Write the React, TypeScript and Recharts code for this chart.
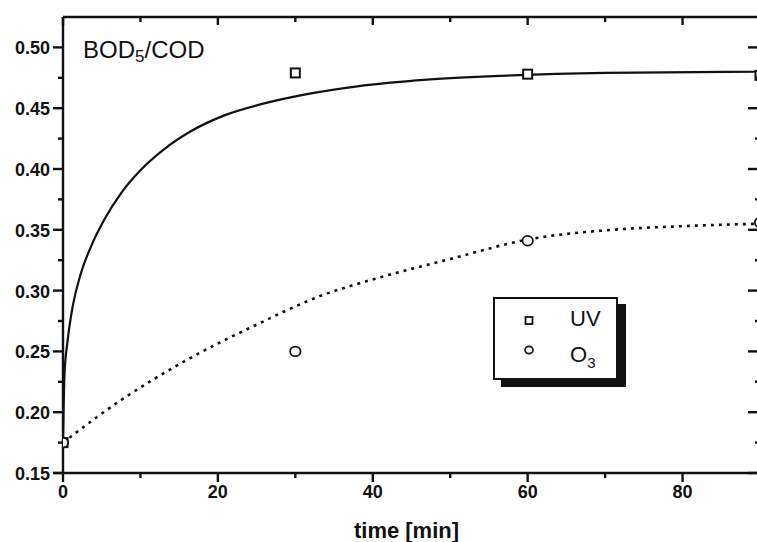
import React from "react"
import { ComposedChart, Line, Scatter, XAxis, YAxis, Legend } from "recharts"

// measured points (time in min)
const sampleTimes = [0, 30, 60, 90]
const uvMeasured = [0.175, 0.479, 0.478, 0.477]
const o3Measured = [0.175, 0.25, 0.341, 0.356]

// fitted curves
const uvFitTimes = [0, 0.2, 0.6, 1.25, 2.3, 3.6, 5.3, 7.6, 10, 13, 16.5, 21, 26, 31, 38, 47, 58, 70, 90]
const uvFitValues = [0.175, 0.232, 0.259, 0.287, 0.314, 0.336, 0.358, 0.381, 0.399, 0.416, 0.431, 0.4445, 0.454, 0.461, 0.468, 0.4735, 0.477, 0.479, 0.48]
const o3FitTimes = [0, 7.5, 16, 25, 33, 41, 50, 60, 71, 80, 90]
const o3FitValues = [0.175, 0.21, 0.243, 0.272, 0.295, 0.311, 0.326, 0.342, 0.35, 0.353, 0.355]

const xTicks = [0, 10, 20, 30, 40, 50, 60, 70, 80, 90]
const yTicks = [0.15, 0.175, 0.2, 0.225, 0.25, 0.275, 0.3, 0.325, 0.35, 0.375, 0.4, 0.425, 0.45, 0.475, 0.5]

const INK = "#111"
const FONT = '"Liberation Sans", Arial, sans-serif'
const AXIS_W = 2.4

const toPoints = (xs: number[], ys: number[]) => xs.map((x, i) => ({ x, y: ys[i] }))

const uvPoints = toPoints(sampleTimes, uvMeasured)
const o3Points = toPoints(sampleTimes, o3Measured)
const uvFit = toPoints(uvFitTimes, uvFitValues)
const o3Fit = toPoints(o3FitTimes, o3FitValues)

const isMajorX = (v: number) => v % 20 === 0
const isMajorY = (v: number) => Math.round(v * 1000) % 50 === 0

function BottomTick(props: any) {
  const { x, y, payload } = props
  const major = isMajorX(payload.value)
  return (
    <g>
      <line x1={x} x2={x} y1={y} y2={y + (major ? 9 : 5)} stroke={INK} strokeWidth={AXIS_W} />
      {payload.value === 0 && <line x1={x - 10} x2={x} y1={y} y2={y} stroke={INK} strokeWidth={AXIS_W} />}
      {major && (
        <text x={x} y={y + 19} textAnchor="middle" dominantBaseline="central"
          fontFamily={FONT} fontWeight="bold" fontSize={18} fill={INK}>
          {payload.value}
        </text>
      )}
    </g>
  )
}

function TopTick(props: any) {
  const { x, y, payload } = props
  const major = isMajorX(payload.value)
  return <line x1={x} x2={x} y1={y} y2={y + (major ? 8 : 5)} stroke={INK} strokeWidth={AXIS_W} />
}

function LeftTick(props: any) {
  const { x, y, payload } = props
  const major = isMajorY(payload.value)
  return (
    <g>
      <line x1={x} x2={x - (major ? 10 : 5)} y1={y} y2={y} stroke={INK} strokeWidth={AXIS_W} />
      {major && (
        <text x={x - 13} y={y + 1} textAnchor="end" dominantBaseline="central"
          fontFamily={FONT} fontWeight="bold" fontSize={18} fill={INK}>
          {payload.value.toFixed(2)}
        </text>
      )}
    </g>
  )
}

function RightTick(props: any) {
  const { x, y, payload } = props
  const major = isMajorY(payload.value)
  return <line x1={x} x2={x - (major ? 12 : 5)} y1={y} y2={y} stroke={INK} strokeWidth={AXIS_W} />
}

const SquareMark = (props: any) => (
  <rect x={props.cx - 4.5} y={props.cy - 4.5} width={9} height={9}
    fill="#fff" stroke={INK} strokeWidth={2} />
)

const CircleMark = (props: any) => (
  <ellipse cx={props.cx} cy={props.cy} rx={5.2} ry={4.8}
    fill="#fff" stroke={INK} strokeWidth={1.8} />
)

function LegendBox() {
  const text = { position: "absolute" as const, fontFamily: FONT, fontSize: 22, lineHeight: "22px", color: INK }
  return (
    <div style={{
      position: "relative", width: 125, height: 83, boxSizing: "border-box",
      border: `2px solid ${INK}`, background: "#fff", boxShadow: `8px 7px 0 ${INK}`,
    }}>
      <svg style={{ position: "absolute", left: 27, top: 14 }} width={16} height={52}>
        <rect x={3.5} y={4} width={7} height={7} fill="none" stroke={INK} strokeWidth={1.8} />
        <ellipse cx={7} cy={37} rx={4} ry={3.6} fill="none" stroke={INK} strokeWidth={1.6} />
      </svg>
      <div style={{ ...text, left: 75, top: 9 }}>UV</div>
      <div style={{ ...text, left: 75, top: 45 }}>
        O<span style={{ fontSize: 15, verticalAlign: -6 }}>3</span>
      </div>
    </div>
  )
}

export default function App() {
  return (
    <div style={{ position: "fixed", left: 0, top: 0, width: 757, height: 542, overflow: "hidden", background: "#fff" }}>
      <div style={{ position: "absolute", left: 8, top: 8 }}>
        <ComposedChart width={800} height={534} margin={{ top: 0, right: 0, left: 0, bottom: 0 }}>
          <XAxis
            type="number" dataKey="x" domain={[0, 90]} ticks={xTicks} allowDataOverflow
            height={69} tickSize={0} tickMargin={0} tickLine={false} tick={<BottomTick />}
            axisLine={{ stroke: INK, strokeWidth: AXIS_W }}
            label={{ value: "time [min]", position: "insideBottom", offset: 4, dx: -5,
              style: { fontFamily: FONT, fontWeight: "bold", fontSize: 22, fill: INK } }}
          />
          <XAxis
            xAxisId="top" orientation="top" type="number" dataKey="x" domain={[0, 90]} ticks={xTicks}
            allowDataOverflow height={9} tickSize={0} tickMargin={0} tickLine={false} tick={<TopTick />}
            axisLine={{ stroke: INK, strokeWidth: AXIS_W }}
          />
          <YAxis
            type="number" domain={[0.15, 0.525]} ticks={yTicks} allowDataOverflow width={55}
            tickSize={0} tickMargin={0} tickLine={false} tick={<LeftTick />}
            axisLine={{ stroke: INK, strokeWidth: AXIS_W }}
          />
          <YAxis
            yAxisId="right" orientation="right" type="number" domain={[0.15, 0.525]} ticks={yTicks}
            allowDataOverflow width={48} tickSize={0} tickMargin={0} tickLine={false} tick={<RightTick />}
            axisLine={{ stroke: INK, strokeWidth: AXIS_W }}
          />
          <Line data={uvFit} dataKey="y" type="monotone" stroke={INK} strokeWidth={2.2}
            dot={false} activeDot={false} isAnimationActive={false} legendType="none" />
          <Line data={o3Fit} dataKey="y" type="monotone" stroke={INK} strokeWidth={2.6}
            strokeDasharray="3 5" dot={false} activeDot={false} isAnimationActive={false} legendType="none" />
          <Scatter name="UV" data={uvPoints} dataKey="y" shape={<SquareMark />} isAnimationActive={false} />
          <Scatter name="O3" data={o3Points} dataKey="y" shape={<CircleMark />} isAnimationActive={false} />
          <Legend layout="vertical" align="center" verticalAlign="middle"
            wrapperStyle={{ left: 485, top: 289, width: "auto" }} content={() => <LegendBox />} />
        </ComposedChart>
        <div style={{ position: "absolute", left: 75, top: 30, fontFamily: FONT, fontSize: 24, lineHeight: "24px", color: INK }}>
          BOD<span style={{ fontSize: 17, verticalAlign: -4 }}>5</span>/COD
        </div>
      </div>
    </div>
  )
}
